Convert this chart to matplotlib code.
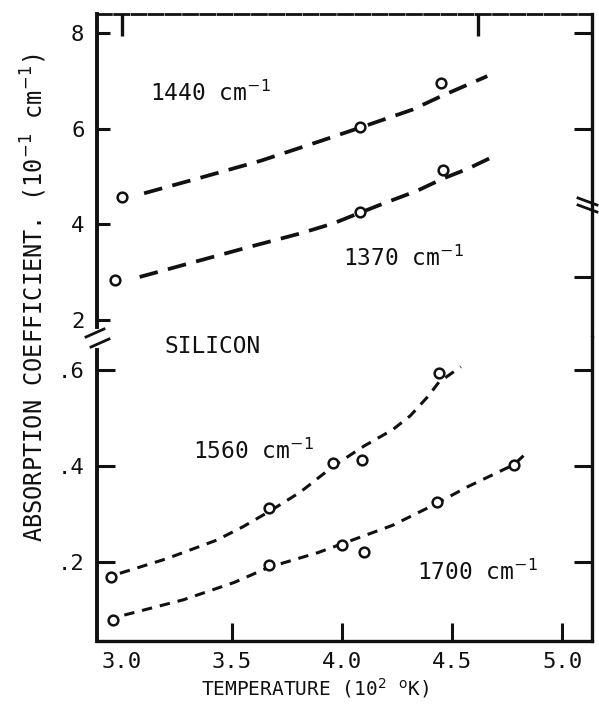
import matplotlib.pyplot as plt
from matplotlib.lines import Line2D

# Absorption coefficient of silicon vs temperature (10^2 K), four wavenumbers.
# Upper panel: 1440 and 1370 cm^-1 ; lower panel: 1560 and 1700 cm^-1.
temp_1440 = [3.0, 4.08, 4.45]
alpha_1440 = [4.57, 6.04, 6.95]
curve_t_1440 = [3.10, 3.36, 3.63, 3.90, 4.08, 4.32, 4.45, 4.66]
curve_a_1440 = [4.65, 4.98, 5.33, 5.74, 6.02, 6.40, 6.68, 7.10]

temp_1370 = [2.97, 4.08, 4.46]
alpha_1370 = [2.84, 4.26, 5.14]
curve_t_1370 = [3.08, 3.31, 3.58, 3.81, 3.96, 4.08, 4.19, 4.34, 4.46, 4.57, 4.67]
curve_a_1370 = [2.90, 3.19, 3.53, 3.81, 4.02, 4.24, 4.44, 4.70, 4.96, 5.16, 5.38]

temp_1560 = [2.95, 3.67, 3.96, 4.09, 4.44]
alpha_1560 = [0.170, 0.312, 0.406, 0.413, 0.594]
curve_t_1560 = [2.99, 3.20, 3.43, 3.55, 3.67, 3.81, 3.96, 4.10, 4.23, 4.31, 4.39, 4.44, 4.54]
curve_a_1560 = [0.177, 0.207, 0.246, 0.274, 0.306, 0.346, 0.400, 0.442, 0.476, 0.505, 0.545, 0.575, 0.607]

temp_1700 = [2.96, 3.67, 4.00, 4.10, 4.43, 4.78]
alpha_1700 = [0.080, 0.194, 0.236, 0.222, 0.326, 0.403]
curve_t_1700 = [3.01, 3.28, 3.51, 3.67, 3.89, 4.01, 4.23, 4.42, 4.57, 4.78, 4.83]
curve_a_1700 = [0.090, 0.122, 0.158, 0.190, 0.220, 0.240, 0.277, 0.320, 0.357, 0.403, 0.424]

x_ticks = [3.0, 3.5, 4.0, 4.5, 5.0]
x_labels = ['3.0', '3.5', '4.0', '4.5', '5.0']
upper_ticks = [8, 6, 4, 2]
upper_labels = ['8', '6', '4', '2']
lower_ticks = [0.6, 0.4, 0.2]
lower_labels = ['.6', '.4', '.2']

plt.rcParams['font.family'] = ['DejaVu Sans Mono', 'DejaVu Sans']
INK = '#111111'

W, H = 599, 707
fig = plt.figure(figsize=(W / 100, H / 100), dpi=100)


def fx(px):
    return px / W


def fy(py):
    return 1 - py / H


left, right, top, brk, bottom = 97, 592, 14, 337, 641
ax_top = fig.add_axes([fx(left), fy(brk), fx(right - left), (brk - top) / H])
ax_bot = fig.add_axes([fx(left), fy(bottom), fx(right - left), (bottom - brk) / H])

xlim = (2.886, 5.136)
for ax in (ax_top, ax_bot):
    ax.set_xlim(*xlim)
    for s in ax.spines.values():
        s.set_color(INK)
    ax.spines['left'].set_linewidth(2.8)
    ax.spines['right'].set_linewidth(2.4)
    ax.tick_params(axis='y', direction='in', length=9, width=2.2, color=INK,
                   labelsize=16, pad=9, labelcolor=INK)

ax_top.set_ylim(1.644, 8.40)
ax_bot.set_ylim(0.036, 0.669)

# broken axis: no shared border, gap in the left spine
ax_top.spines['bottom'].set_visible(False)
ax_bot.spines['top'].set_visible(False)
ax_top.spines['left'].set_bounds(1.85, 8.40)
ax_bot.spines['left'].set_bounds(0.036, 0.642)
ax_top.spines['top'].set_linewidth(2.0)
ax_top.spines['top'].set_linestyle((0, (5, 1.2)))
ax_bot.spines['bottom'].set_linewidth(2.4)

ax_top.set_yticks(upper_ticks)
ax_top.set_yticklabels(upper_labels)
ax_top.tick_params(axis='x', bottom=False, labelbottom=False)
ax_bot.set_yticks(lower_ticks)
ax_bot.set_yticklabels(lower_labels)
ax_bot.tick_params(axis='y', right=True, length=13)

ax_bot.set_xticks(x_ticks)
ax_bot.set_xticklabels(x_labels)
ax_bot.tick_params(axis='x', direction='in', length=13, width=2.2, color=INK,
                   labelsize=16, pad=8, labelcolor=INK)
ax_bot.xaxis.get_major_ticks()[0].tick1line.set_visible(False)

# extra ticks along the top and right of the upper panel
sec_x = ax_top.secondary_xaxis('top')
sec_x.set_xticks([3.0, 4.62])
sec_x.tick_params(direction='in', length=16, width=2.4, color=INK, labeltop=False)
sec_x.spines['top'].set_visible(False)
sec_y = ax_top.secondary_yaxis('right')
sec_y.set_yticks([8, 6, 2.9])
sec_y.tick_params(direction='in', length=13, width=2.2, color=INK, labelright=False)
sec_y.spines['right'].set_visible(False)

# fitted curves (dashed) and measured points (open circles)
big_dash = dict(color=INK, lw=2.7, linestyle=(0, (5.0, 2.8)), solid_capstyle='round')
small_dash = dict(color=INK, lw=2.2, linestyle=(0, (3.4, 2.6)))
pts = dict(linestyle='none', marker='o', ms=7, mfc='white', mec=INK, mew=1.8, zorder=3)

ax_top.plot(curve_t_1440, curve_a_1440, **big_dash)
ax_top.plot(temp_1440, alpha_1440, **pts)
ax_top.plot(curve_t_1370, curve_a_1370, **big_dash)
ax_top.plot(temp_1370, alpha_1370, **pts)

ax_bot.plot(curve_t_1560, curve_a_1560, **small_dash)
ax_bot.plot(temp_1560, alpha_1560, **pts)
ax_bot.plot(curve_t_1700, curve_a_1700, **small_dash)
ax_bot.plot(temp_1700, alpha_1700, **pts)

lab = dict(fontsize=16.5, color=INK, va='center')
ax_top.text(3.127, 6.75, r'1440 cm$^{-1}$', **lab)
ax_top.text(4.005, 3.30, r'1370 cm$^{-1}$', **lab)
ax_bot.text(3.41, 0.649, 'SILICON', fontsize=16.5, color=INK, ha='center', va='center')
ax_bot.text(3.323, 0.432, r'1560 cm$^{-1}$', **lab)
ax_bot.text(4.34, 0.180, r'1700 cm$^{-1}$', **lab)

ax_bot.set_xlabel(r'TEMPERATURE (10$^2$ $^{\rm o}$K)', fontsize=14, color=INK)
ax_bot.xaxis.set_label_coords((315 - left) / (right - left), -0.115)
fig.text(fx(34), fy(298), r'ABSORPTION COEFFICIENT. (10$^{-1}$ cm$^{-1}$)',
         rotation=90, ha='center', va='center', fontsize=17, color=INK)

# break marks on the left and right borders
for (x0, y0, x1, y1) in [(86, 337, 104, 329), (91, 347, 109, 339),
                         (578, 198, 597, 205), (578, 205, 597, 212)]:
    fig.add_artist(Line2D([fx(x0), fx(x1)], [fy(y0), fy(y1)],
                          transform=fig.transFigure, color=INK, lw=2.0))

fig.savefig('out.png', dpi=100, facecolor='white')
